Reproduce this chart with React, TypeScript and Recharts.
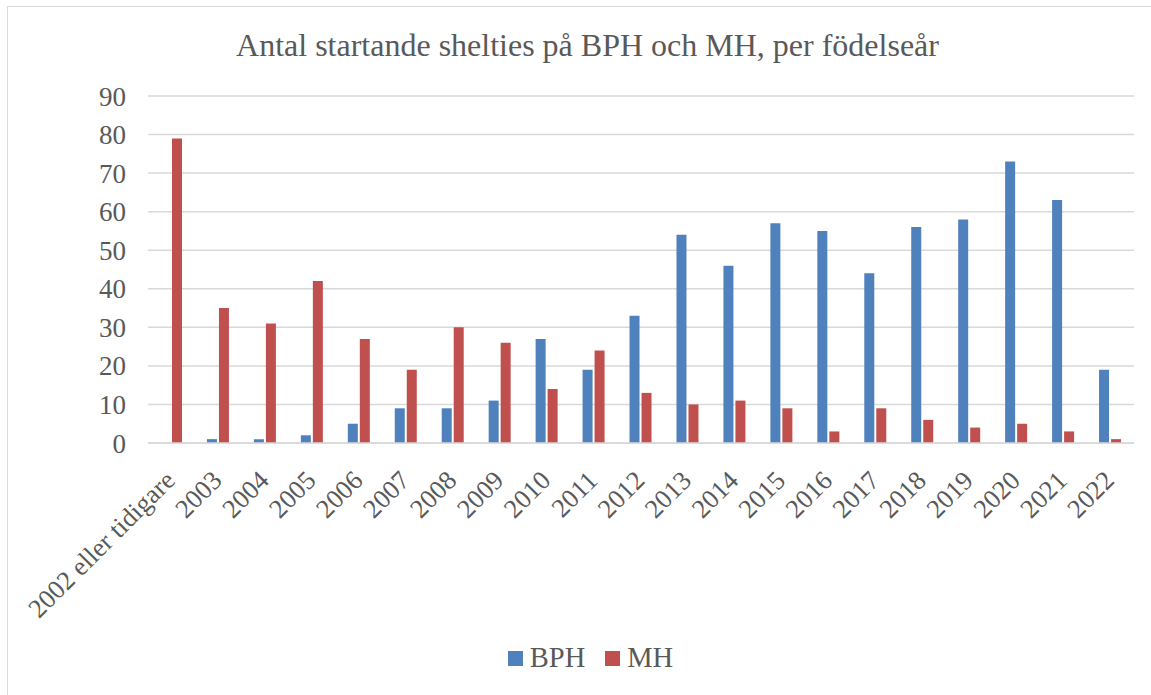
import { BarChart, Bar, XAxis, YAxis, CartesianGrid, Legend } from "recharts";

const categories = [
  "2002 eller tidigare", "2003", "2004", "2005", "2006", "2007", "2008",
  "2009", "2010", "2011", "2012", "2013", "2014", "2015", "2016", "2017",
  "2018", "2019", "2020", "2021", "2022",
];
const bph = [0, 1, 1, 2, 5, 9, 9, 11, 27, 19, 33, 54, 46, 57, 55, 44, 56, 58, 73, 63, 19];
const mh = [79, 35, 31, 42, 27, 19, 30, 26, 14, 24, 13, 10, 11, 9, 3, 9, 6, 4, 5, 3, 1];
const yTicks = [0, 10, 20, 30, 40, 50, 60, 70, 80, 90];

const data = categories.map((c, i) => ({ name: c, BPH: bph[i], MH: mh[i] }));

const FONT = '"Liberation Serif", "Times New Roman", serif';
const TEXT = "#595959";
const BLUE = "#4F81BD";
const RED = "#C0504D";

const XTick = ({ x, y, payload }: any) => (
  <text
    x={x + 5}
    y={y + 31}
    transform={`rotate(-45, ${x + 5}, ${y + 31})`}
    textAnchor="end"
    fill={TEXT}
    fontSize={26.5}
    fontFamily={FONT}
  >
    {payload.value}
  </text>
);

const renderLegend = () => (
  <div
    style={{
      display: "flex",
      justifyContent: "center",
      alignItems: "center",
      fontFamily: FONT,
      fontSize: 28.5,
      color: TEXT,
    }}
  >
    {[
      { name: "BPH", color: BLUE },
      { name: "MH", color: RED },
    ].map((s, i) => (
      <span key={s.name} style={{ display: "flex", alignItems: "center", marginLeft: i ? 20 : 0 }}>
        <span style={{ width: 15, height: 15, background: s.color, marginRight: 7 }} />
        {s.name}
      </span>
    ))}
  </div>
);

export default function App() {
  return (
    <div style={{ position: "absolute", left: 0, top: 0, width: 1151, height: 695, background: "#fff" }}>
      <div
        style={{
          position: "absolute",
          left: 7,
          top: 6,
          width: 1150,
          height: 695,
          border: "1px solid #d9d9d9",
          boxSizing: "border-box",
        }}
      />
      <div
        style={{
          position: "absolute",
          left: 0,
          top: 26,
          width: 1175,
          textAlign: "center",
          fontFamily: FONT,
          fontSize: 32,
          lineHeight: "38px",
          color: TEXT,
        }}
      >
        Antal startande shelties på BPH och MH, per födelseår
      </div>
      <div style={{ position: "absolute", left: 0, top: 0 }}>
        <BarChart
          width={1151}
          height={695}
          data={data}
          margin={{ top: 96, right: 17, left: 0, bottom: 0 }}
          barSize={10}
          barGap={2}
        >
          <CartesianGrid vertical={false} stroke="#d9d9d9" strokeWidth={1.5} />
          <XAxis
            dataKey="name"
            height={252}
            interval={0}
            tick={<XTick />}
            tickLine={false}
            axisLine={{ stroke: "#d9d9d9", strokeWidth: 1.5 }}
          />
          <YAxis
            width={148}
            domain={[0, 90]}
            ticks={yTicks}
            tickLine={false}
            axisLine={false}
            tickSize={0}
            tickMargin={22}
            tick={{ fill: TEXT, fontSize: 27, fontFamily: FONT }}
          />
          <Legend
            verticalAlign="middle"
            align="center"
            content={renderLegend}
            wrapperStyle={{ top: 642, left: 0, width: 1181 }}
          />
          <Bar dataKey="BPH" fill={BLUE} isAnimationActive={false} />
          <Bar dataKey="MH" fill={RED} isAnimationActive={false} />
        </BarChart>
      </div>
    </div>
  );
}
